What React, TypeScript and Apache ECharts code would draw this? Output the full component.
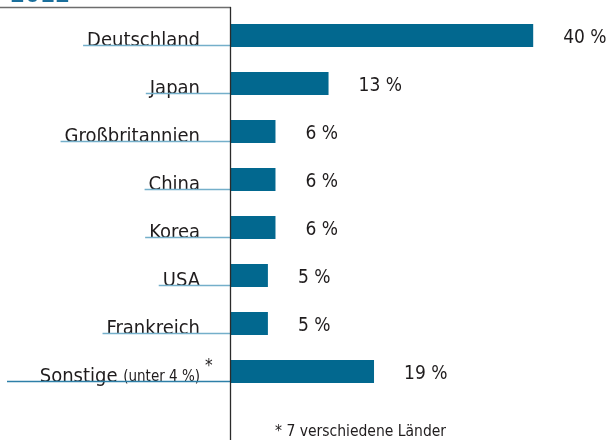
import React, { useEffect, useRef } from "react";
import * as echarts from "echarts";

const categories = ["Deutschland", "Japan", "Großbritannien", "China", "Korea", "USA", "Frankreich", "Sonstige"];
const shares = [40, 13, 6, 6, 6, 5, 5, 19];
const yearTitle = "2012";
const otherNote = "(unter 4 %)";
const footnote = "* 7 verschiedene Länder";

const FONT = "DejaVu Sans Condensed";
const BAR = "#02688f";
const TEXT = "#1f1c1d";
const GRID_LEFT = 230;
const LABEL_MARGIN = 30;

export default function App() {
  const ref = useRef<HTMLDivElement>(null);
  useEffect(() => {
    if (!ref.current) return;
    const chart = echarts.init(ref.current, null, { renderer: "svg" });
    chart.setOption({
      animation: false,
      grid: { left: GRID_LEFT, top: 11.5, width: 379, height: 384 },
      xAxis: { type: "value", min: 0, max: 50, show: false },
      yAxis: {
        type: "category",
        inverse: true,
        data: categories,
        axisLine: { show: false },
        axisTick: { show: false },
        splitLine: { show: false },
        axisLabel: {
          margin: LABEL_MARGIN,
          fontFamily: FONT,
          fontSize: 20,
          color: TEXT,
          padding: [6, 0, 0, 0],
          formatter: (v: string) => (v === "Sonstige" ? `{m|${v}} {s|${otherNote}}` : v),
          rich: {
            m: { fontFamily: FONT, fontSize: 20, color: TEXT, verticalAlign: "bottom" },
            s: { fontFamily: FONT, fontSize: 15, color: TEXT, verticalAlign: "bottom", padding: [0, 0, 1, 0] },
          },
        },
      },
      series: [
        {
          type: "bar",
          data: shares,
          barWidth: 23,
          itemStyle: { color: BAR },
          label: {
            show: true,
            position: "right",
            distance: 30,
            fontFamily: FONT,
            fontSize: 19,
            color: TEXT,
            padding: [4, 0, 0, 0],
            formatter: (p: any) => `${p.value} %`,
          },
        },
      ],
    });

    const canvas = document.createElement("canvas");
    const ctx = canvas.getContext("2d")!;
    const measure = (t: string, size: number) => {
      ctx.font = `${size}px "${FONT}"`;
      return ctx.measureText(t).width;
    };
    const textRight = GRID_LEFT - LABEL_MARGIN;
    const underlines: any[] = categories.map((c) => {
      const yc = chart.convertToPixel({ yAxisIndex: 0 }, c) as number;
      const isOther = c === "Sonstige";
      const w = isOther ? measure(c + " ", 20) + measure(otherNote, 15) : measure(c, 20);
      const x1 = isOther ? 7 : textRight - w - 4;
      return {
        type: "line",
        shape: { x1, y1: yc + 10, x2: GRID_LEFT, y2: yc + 10 },
        style: { stroke: isOther ? "#2d7fa8" : "#74afca", lineWidth: 1.6 },
        z: 1,
      };
    });
    const lastY = chart.convertToPixel({ yAxisIndex: 0 }, "Sonstige") as number;

    chart.setOption({
      graphic: [
        ...underlines,
        { type: "line", shape: { x1: 0, y1: 7.5, x2: 231, y2: 7.5 }, style: { stroke: "#6d6d6d", lineWidth: 1.5 }, z: 5 },
        { type: "line", shape: { x1: 230.5, y1: 7, x2: 230.5, y2: 440 }, style: { stroke: "#2b2b2b", lineWidth: 1.3 }, z: 5 },
        {
          type: "text",
          x: 10,
          y: -18.5,
          style: { text: yearTitle, font: `bold 24px "${FONT}"`, fill: "#1a6f9c" },
        },
        {
          type: "text",
          x: 205,
          y: lastY - 15,
          style: { text: "*", font: `17px "${FONT}"`, fill: TEXT },
        },
        {
          type: "text",
          x: 275,
          y: 423,
          style: { text: footnote, font: `15.5px "${FONT}"`, fill: TEXT },
        },
      ],
    });
    return () => chart.dispose();
  }, []);
  return <div ref={ref} style={{ position: "fixed", left: 0, top: 0, width: 611, height: 440 }} />;
}
